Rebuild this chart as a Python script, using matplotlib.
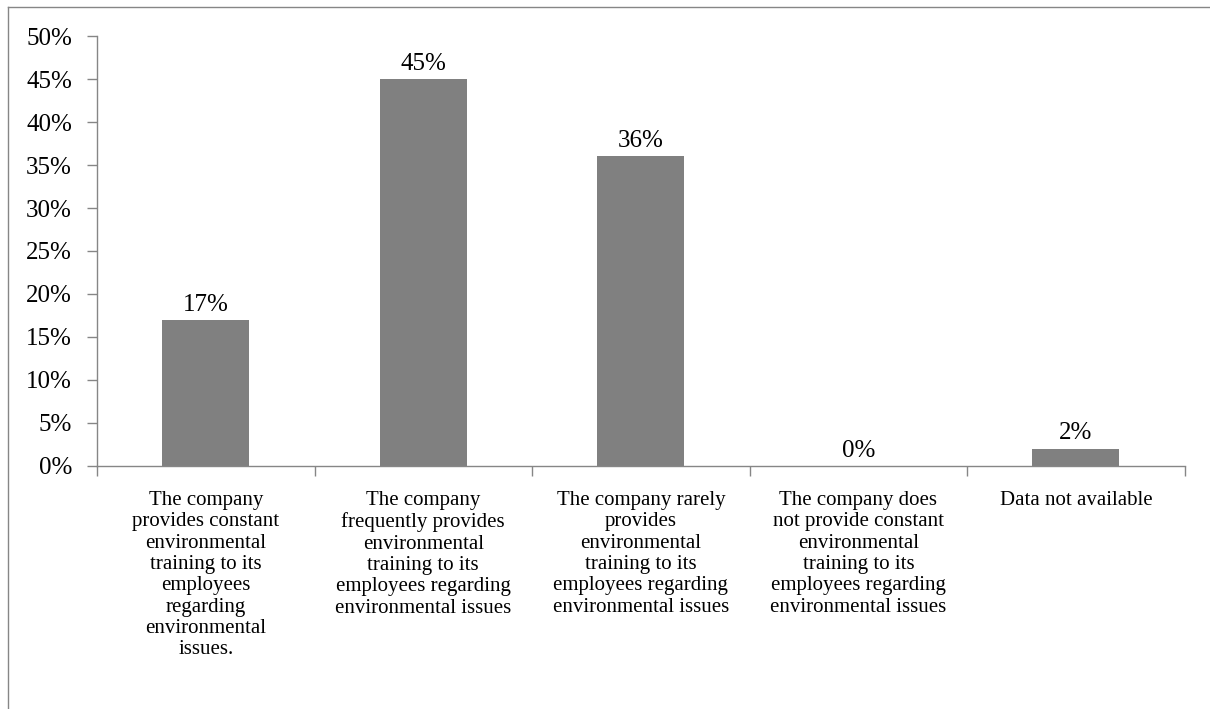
import numpy as np
import matplotlib.pyplot as plt
from matplotlib.lines import Line2D
from matplotlib.ticker import PercentFormatter

categories = [
    "The company\nprovides constant\nenvironmental\ntraining to its\nemployees\nregarding\nenvironmental\nissues.",
    "The company\nfrequently provides\nenvironmental\ntraining to its\nemployees regarding\nenvironmental issues",
    "The company rarely\nprovides\nenvironmental\ntraining to its\nemployees regarding\nenvironmental issues",
    "The company does\nnot provide constant\nenvironmental\ntraining to its\nemployees regarding\nenvironmental issues",
    "Data not available",
]
values = [17, 45, 36, 0, 2]
yticks = [0, 5, 10, 15, 20, 25, 30, 35, 40, 45, 50]

plt.rcParams['font.family'] = ['Liberation Serif', 'DejaVu Serif']
axis_gray = '#868686'

fig = plt.figure(figsize=(12.1, 7.09), dpi=100)
ax = fig.add_axes([0.0802, 0.343, 0.8988, 0.606])

x = np.arange(len(values))
ax.bar(x, values, width=0.4, color='#808080', zorder=2)

for xi, v in zip(x, values):
    ax.annotate(f"{v}%", (xi, v), xytext=(0, 3), textcoords='offset points',
                ha='center', va='bottom', fontsize=18)

ax.set_xlim(-0.5, len(values) - 0.5)
ax.set_ylim(0, 50)
ax.set_yticks(yticks)
ax.yaxis.set_major_formatter(PercentFormatter(decimals=0))

# boundary ticks on the category axis, labels sit at the bar centres
ax.set_xticks(np.arange(len(values) + 1) - 0.5)
ax.set_xticklabels([])
ax.set_xticks(x, minor=True)
ax.set_xticklabels(categories, minor=True, fontsize=15, linespacing=1.17, va='top')
ax.tick_params(axis='x', which='major', direction='out', length=7, width=1, color=axis_gray)
ax.tick_params(axis='x', which='minor', length=0, pad=18)
ax.tick_params(axis='y', direction='out', length=7, width=1, color=axis_gray,
               labelsize=18, pad=11)

for side in ['top', 'right']:
    ax.spines[side].set_visible(False)
for side in ['left', 'bottom']:
    ax.spines[side].set_color(axis_gray)
    ax.spines[side].set_linewidth(1)

# outer frame lines along the top and left edges
fig.add_artist(Line2D([8 / 1210, 1], [1 - 7 / 709, 1 - 7 / 709],
                      transform=fig.transFigure, color=axis_gray, lw=1))
fig.add_artist(Line2D([8 / 1210, 8 / 1210], [1 - 7 / 709, 0],
                      transform=fig.transFigure, color=axis_gray, lw=1))

fig.savefig('out.png', dpi=100)
